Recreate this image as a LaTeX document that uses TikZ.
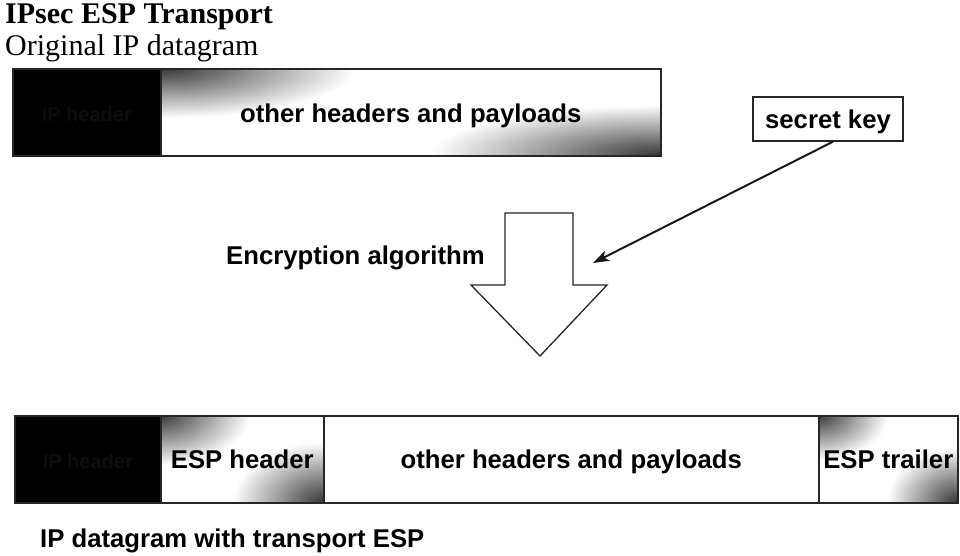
\documentclass[tikz,border=0pt]{standalone}
\usepackage{fontspec}
\setmainfont{Liberation Serif}
\newfontfamily\arialf{Liberation Sans}
\usetikzlibrary{arrows.meta}
\begin{document}
\begin{tikzpicture}[x=1pt,y=-1pt,
  lbl/.style={font=\arialf\bfseries\fontsize{25.7}{28}\selectfont, inner sep=0pt},
  field/.style={lbl, draw=black!85, line width=1.6pt, minimum height=87pt, text height=18pt, text depth=0pt, anchor=north west},
  blackfield/.style={field, fill=black, text=white!5!black, font=\arialf\bfseries\fontsize{20}{22}\selectfont},
  speck/.style={inner color=black!78, outer color=white},
  bigarrow/.style={draw=black!85, line width=1.3pt, fill=white, line join=miter},
  keyarrow/.style={draw=black!90, line width=2pt, -{Stealth[length=16pt,width=11pt,inset=4pt]}}]
\useasboundingbox (0,0) rectangle (960,555);
\fill[white] (0,0) rectangle (960,555);

% titles
\node[anchor=base west, inner sep=0pt, font=\bfseries\fontsize{30}{32}\selectfont] (title) at (5,23) {IPsec ESP Transport};
\node[anchor=base west, inner sep=0pt, font=\fontsize{30}{32}\selectfont] (subtitle) at (5,55) {Original IP datagram};

% shadings, top datagram
\begin{scope}
  \clip (160,68) rectangle (660,155);
  \shade[speck] (165,68) ellipse [x radius=190, y radius=50];
  \shade[speck] (660,155) ellipse [x radius=230, y radius=50];
\end{scope}
% shadings, bottom datagram
\begin{scope}
  \clip (160,415) rectangle (323,502);
  \shade[speck] (160,415) ellipse [x radius=90, y radius=50];
  \shade[speck] (323,502) ellipse [x radius=90, y radius=60];
\end{scope}
\begin{scope}
  \clip (818,415) rectangle (957,502);
  \shade[speck] (818,415) ellipse [x radius=70, y radius=45];
  \shade[speck] (957,502) ellipse [x radius=70, y radius=55];
\end{scope}

% top datagram
\node[blackfield, minimum width=148pt] (iph1) at (12,68) {IP header};
\node[field, minimum width=500pt, text height=20.5pt] (pay1) at (160,68) {other headers and payloads};

% secret key
\node[lbl, draw=black!85, line width=1.3pt, minimum width=150pt, minimum height=44pt, text height=18pt, text depth=0pt] (key) at (828,119) {secret key};

% encryption arrow
\draw[bigarrow] (505,213) -- (573,213) -- (573,285) -- (607,285) -- (540,356) -- (471,285) -- (505,285) -- cycle;
\node[lbl, anchor=base west] (enc) at (226,264) {Encryption algorithm};
\coordinate (keytip) at (593,263);
\draw[keyarrow] ([xshift=5pt]key.south) -- (keytip);

% bottom datagram
\node[blackfield, minimum width=146pt] (iph2) at (14,415) {IP header};
\node[field, minimum width=163pt] (esph) at (160,415) {ESP header};
\node[field, minimum width=495pt] (pay2) at (323,415) {other headers and payloads};
\node[field, minimum width=139pt] (espt) at (818,415) {ESP trailer};

\node[lbl, anchor=base west] (caption) at (40,547) {IP datagram with transport ESP};
\end{tikzpicture}
\end{document}
